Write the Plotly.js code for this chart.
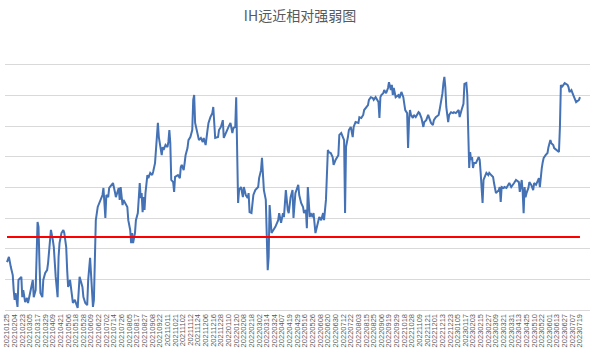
<!DOCTYPE html>
<html>
<head>
<meta charset="utf-8">
<script src="https://cdn.plot.ly/plotly-3.0.1.min.js"></script>
<style>
  html, body { margin: 0; padding: 0; background: #ffffff; }
  #chart { width: 600px; height: 353px; }
</style>
</head>
<body>
<div id="chart"></div>
<script>
// Tick labels (every 8th trading day)
const tickLabels = [
  "20210125","20210204","20210223","20210305","20210317","20210329","20210409","20210421",
  "20210506","20210518","20210528","20210609","20210622","20210702","20210714","20210726",
  "20210805","20210817","20210827","20210908","20210922","20211011","20211021","20211102",
  "20211112","20211124","20211206","20211216","20211228","20220110","20220120","20220208",
  "20220218","20220302","20220314","20220324","20220407","20220419","20220429","20220516",
  "20220526","20220608","20220620","20220630","20220712","20220722","20220803","20220815",
  "20220825","20220906","20220919","20220929","20221018","20221028","20221109","20221121",
  "20221201","20221213","20221223","20230105","20230117","20230203","20230215","20230227",
  "20230309","20230321","20230331","20230413","20230425","20230510","20230522","20230601",
  "20230613","20230627","20230707","20230719"
];
const labelStep = 8; // trading days between labels

// Trading-day index of each sampled point
const days = [
  0,2,4,6,7,8,9,11,12,15,16,17,19,21,22,24,26,27,28,30,32,33,34,35,37,38,40,42,43,45,46,48,49,51,53,54,55,57,59,60,62,63,64,66,68,69,71,74,76,77,79,80,82,84,85,87,88,90,91,93,95,
  98,100,101,102,103,104,106,107,110,111,113,114,117,118,119,121,122,124,126,127,129,130,131,132,134,135,137,139,140,141,142,143,144,145,146,147,148,150,152,153,155,156,158,159,160,162,163,164,166,168,169,170,171,172,174,175,176,179,181,182,183,185,186,187,189,190,192,194,195,196,197,200,201,203,205,206,208,210,211,213,
  215,216,217,218,221,222,224,226,227,229,231,232,234,236,237,239,240,242,243,245,247,248,250,252,253,254,256,257,258,260,263,264,266,267,268,269,271,272,273,274,275,277,279,281,284,285,287,289,290,292,294,295,297,299,300,302,305,306,308,310,311,313,314,315,317,318,320,321,323,326,327,329,331,332,333,334,336,337,339,341,342,344,347,348,350,352,353,354,355,357,358,
  360,362,363,365,368,369,371,373,374,376,378,379,381,383,384,386,389,390,391,392,394,395,397,399,400,402,403,404,405,407,410,411,413,415,416,417,419,420,421,422,423,425,426,428,431,432,434,436,437,439,441,442,444,446,447,449,452,453,455,456,457,458,459,460,462,463,465,467,468,470,473,474,476,478,479,481,482,483,484,
  485,486,487,488,489,491,494,495,496,498,499,500,502,504,505,507,509,510,512,515,516,517,518,520,521,523,525,526,528,530,531,533,536,537,539,540,541,542,543,544,546,547,549,551,552,554,557,558,559,560,561,562,564,566,567,569,570,572,573,575,578,579,580,581,583,584,587,588,589,591,593,594,596,599,600
];

// Relative-strength value (chart has no printed y scale; grid step = 10)
const strength = [
  15.6,17.3,14.0,11.4,6.5,3.3,5.5,1.0,9.8,10.8,4.2,6.5,2.6,3.9,2.3,5.5,7.5,9.8,4.2,6.5,28.7,27.1,15.3,5.5,4.2,9.8,12.1,13.0,15.3,22.8,26.1,22.8,20.5,10.8,4.2,17.3,21.8,25.1,26.1,25.1,20.5,13.0,7.5,9.8,5.5,2.3,3.3,0.7,10.8,9.8,7.5,4.2,2.3,1.6,9.8,17.0,12.1,1.0,3.3,29.3,33.6,
  35.9,37.5,39.8,35.9,30.0,37.5,36.8,39.8,40.8,41.4,38.5,36.8,39.8,35.9,40.1,34.2,35.9,34.9,33.6,29.3,26.1,21.8,25.1,21.8,25.1,29.3,31.6,41.4,36.5,38.1,31.9,36.8,32.6,38.1,42.4,44.0,43.0,44.7,44.0,45.0,47.9,53.1,61.0,56.4,54.8,50.5,53.1,52.2,53.8,53.1,54.8,58.7,54.4,42.4,41.7,38.5,43.4,44.0,43.0,46.6,47.3,45.6,47.9,50.5,52.8,55.4,56.4,58.7,68.5,70.1,61.0,56.4,55.4,56.1,54.8,56.1,53.8,58.7,61.0,62.9,
  64.2,66.2,61.9,56.1,56.4,58.7,59.7,61.9,56.1,57.7,58.7,59.7,61.0,57.7,59.3,59.7,69.4,34.9,39.1,40.1,36.8,40.1,37.5,36.5,38.1,31.9,31.6,34.9,37.5,39.1,40.1,43.0,45.6,49.6,45.6,39.1,35.9,23.8,13.0,17.3,34.2,25.1,26.1,27.1,29.3,31.6,28.4,31.6,30.3,39.1,32.6,31.6,36.8,39.1,30.0,38.1,40.8,37.5,34.9,33.6,31.6,32.6,26.7,40.1,30.3,31.6,30.3,31.6,25.1,29.3,30.3,29.3,31.6,29.3,33.6,35.9,52.2,51.5,51.2,49.9,47.3,48.9,50.5,57.1,57.7,56.4,55.4,31.6,53.1,56.4,58.7,
  59.7,56.4,59.7,61.3,61.0,62.9,62.6,63.6,65.2,65.9,66.8,68.5,69.4,69.1,68.5,69.4,67.8,62.6,69.4,70.1,70.7,71.7,70.7,72.4,74.3,71.7,73.4,70.1,72.4,69.4,70.1,69.1,71.1,69.4,67.5,65.2,64.2,52.8,61.9,65.2,63.6,62.6,63.6,62.9,64.5,64.2,62.6,59.7,61.3,61.9,63.6,62.6,61.0,60.3,61.9,62.9,63.6,65.2,68.5,70.7,74.0,76.0,72.7,66.2,61.3,63.6,64.5,64.2,64.5,64.2,65.2,62.9,65.2,67.2,73.7,74.0,70.1,55.4,46.3,
  51.5,48.9,49.9,46.3,47.9,47.9,49.9,48.9,44.7,34.9,42.4,43.4,44.7,44.0,44.7,44.0,43.4,41.4,38.1,39.1,40.1,35.2,40.1,39.8,40.1,39.8,40.8,41.4,40.1,40.8,41.4,42.4,41.7,38.5,42.4,38.5,31.6,40.1,36.8,38.1,39.8,41.7,40.8,39.1,41.4,40.8,43.0,40.1,44.7,46.3,48.2,49.6,50.5,51.2,53.1,55.4,54.4,53.8,52.8,52.2,51.5,59.7,73.4,72.7,73.4,74.0,73.4,72.7,71.1,71.7,70.1,69.1,67.8,68.5,69.4
];

// Reference (threshold) line level
const threshold = 23.8;

const blueLine = {
  x: days, y: strength, type: 'scatter', mode: 'lines',
  line: { color: '#4472b4', width: 2 }, hoverinfo: 'skip', showlegend: false
};
const redLine = {
  x: [days[0], days[days.length - 1]], y: [threshold, threshold],
  type: 'scatter', mode: 'lines',
  line: { color: '#ff0000', width: 2 }, hoverinfo: 'skip', showlegend: false
};

const tickVals = tickLabels.map((_, i) => i * labelStep);

const layout = {
  width: 600, height: 353,
  margin: { l: 5, r: 10, t: 34, b: 43 },
  paper_bgcolor: '#ffffff', plot_bgcolor: '#ffffff',
  title: {
    text: 'IH远近相对强弱图',
    x: 0.5, xanchor: 'center', y: 0.955, yanchor: 'middle',
    font: { family: '"Noto Sans CJK SC", "Noto Sans", sans-serif', size: 14, color: '#595959' }
  },
  xaxis: {
    type: 'linear', range: [-2.1, 610.5],
    tickmode: 'array', tickvals: tickVals, ticktext: tickLabels,
    tickangle: -90, ticks: '', showgrid: false, zeroline: false,
    showline: true, linecolor: '#d9d9d9', linewidth: 1,
    tickfont: { family: '"Liberation Sans", Arial, sans-serif', size: 7.5, color: '#595959' },
    fixedrange: true
  },
  yaxis: {
    range: [0, 90], dtick: 10, tick0: 0,
    showticklabels: false, ticks: '', zeroline: false, showline: false,
    showgrid: true, gridcolor: '#d9d9d9', gridwidth: 1,
    fixedrange: true
  }
};

Plotly.newPlot('chart', [blueLine, redLine], layout, { displayModeBar: false, staticPlot: true });
</script>
</body>
</html>
